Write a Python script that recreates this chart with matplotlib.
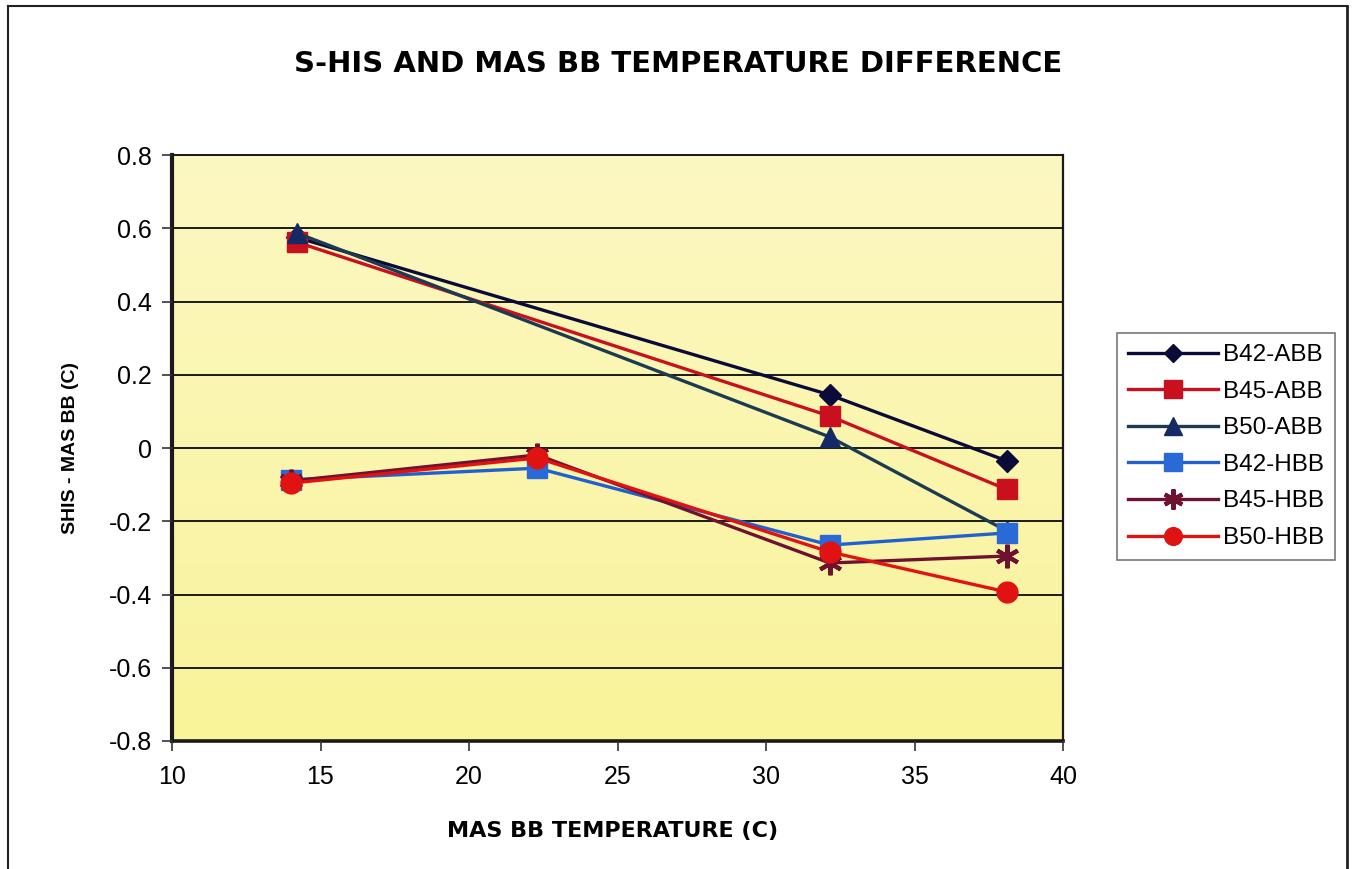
import numpy as np
import matplotlib.pyplot as plt
from matplotlib.lines import Line2D
from matplotlib.colors import LinearSegmentedColormap

# MAS blackbody temperatures (C)
temp_abb = [14.2, 32.15, 38.1]
temp_hbb = [14.0, 22.3, 32.15, 38.1]

# S-HIS minus MAS blackbody temperature (C)
b42_abb = [0.575, 0.145, -0.035]
b45_abb = [0.562, 0.087, -0.113]
b50_abb = [0.587, 0.030, -0.226]
b42_hbb = [-0.087, -0.055, -0.265, -0.232]
b45_hbb = [-0.090, -0.019, -0.314, -0.295]
b50_hbb = [-0.096, -0.027, -0.284, -0.393]

series = [
    ('B42-ABB', temp_abb, b42_abb, '#0b0b3a', 'D', 11, '#0b0b3a'),
    ('B45-ABB', temp_abb, b45_abb, '#c8101e', 's', 15, '#c8101e'),
    ('B50-ABB', temp_abb, b50_abb, '#1c3a52', '^', 15, '#142a66'),
    ('B42-HBB', temp_hbb, b42_hbb, '#2161cf', 's', 15, '#2a6ad6'),
    ('B45-HBB', temp_hbb, b45_hbb, '#6e1230', (6, 2, 0), 17, '#6e1230'),
    ('B50-HBB', temp_hbb, b50_hbb, '#e01212', 'o', 15, '#e01212'),
]

plt.rcParams['font.family'] = ['Liberation Sans', 'DejaVu Sans']

fig = plt.figure(figsize=(13.57, 8.69), dpi=100)
fig.patch.set_facecolor('white')

# outer chart frame
fig.add_artist(Line2D([8 / 1357, 8 / 1357], [0, 1 - 6 / 869], color='#222222', lw=1.5))
fig.add_artist(Line2D([8 / 1357, 1347 / 1357], [1 - 6 / 869, 1 - 6 / 869], color='#222222', lw=1.5))
fig.add_artist(Line2D([1347 / 1357, 1347 / 1357], [0, 1 - 6 / 869], color='#222222', lw=2))

ax = fig.add_axes([172 / 1357, 1 - 741 / 869, (1063 - 172) / 1357, (741 - 155) / 869])

# pale yellow plot area, a little lighter towards the top
grad = np.linspace(0, 1, 256).reshape(-1, 1)
cmap = LinearSegmentedColormap.from_list('bg', ['#f9f39a', '#fcf8c2'])
ax.imshow(grad, extent=[0, 1, 0, 1], transform=ax.transAxes, cmap=cmap,
          origin='lower', aspect='auto', zorder=0)

for name, x, y, col, mk, ms, mcol in series:
    mew = 3 if isinstance(mk, tuple) else 1
    ax.plot(x, y, color=col, lw=2.4, marker=mk, markersize=ms,
            markerfacecolor=mcol, markeredgecolor=mcol, markeredgewidth=mew,
            label=name, zorder=3)

ax.set_xlim(10, 40)
ax.set_ylim(-0.8, 0.8)
ax.set_xticks(np.arange(10, 41, 5))
ax.set_yticks(np.arange(-0.8, 0.81, 0.2))
ax.set_yticklabels(['-0.8', '-0.6', '-0.4', '-0.2', '0', '0.2', '0.4', '0.6', '0.8'])
ax.yaxis.grid(True, color='#1a1a1a', lw=1.4, zorder=1)
ax.set_axisbelow(False)
ax.tick_params(axis='both', labelsize=18, direction='out', length=7, width=1.2,
               color='#333333', pad=10)
ax.tick_params(axis='y', pad=7.5)

ax.spines['left'].set_linewidth(3)
ax.spines['bottom'].set_linewidth(2.6)
ax.spines['top'].set_linewidth(1.4)
ax.spines['right'].set_linewidth(1.6)
for s in ax.spines.values():
    s.set_color('#1a1a1a')

ax.set_ylabel('SHIS - MAS BB (C)', fontsize=14, fontweight='bold', labelpad=21)
ax.set_xlabel('MAS BB TEMPERATURE (C)', fontsize=16, fontweight='bold',
              family='DejaVu Sans')
ax.xaxis.set_label_coords(0.495, -0.137)

fig.text(678 / 1357, 1 - 64 / 869, 'S-HIS AND MAS BB TEMPERATURE DIFFERENCE',
         ha='center', va='center', fontsize=21, fontweight='bold', family='DejaVu Sans')

leg = ax.legend(loc='upper left', bbox_to_anchor=(1.061, 0.696), fontsize=17.5,
                frameon=True, fancybox=False, edgecolor='#555555',
                handlelength=3.7, handletextpad=0.2, labelspacing=0.6,
                borderpad=0.45, borderaxespad=0, markerscale=0.85)
leg.get_frame().set_linewidth(1.2)

fig.savefig('out.png', dpi=100, facecolor='white')
